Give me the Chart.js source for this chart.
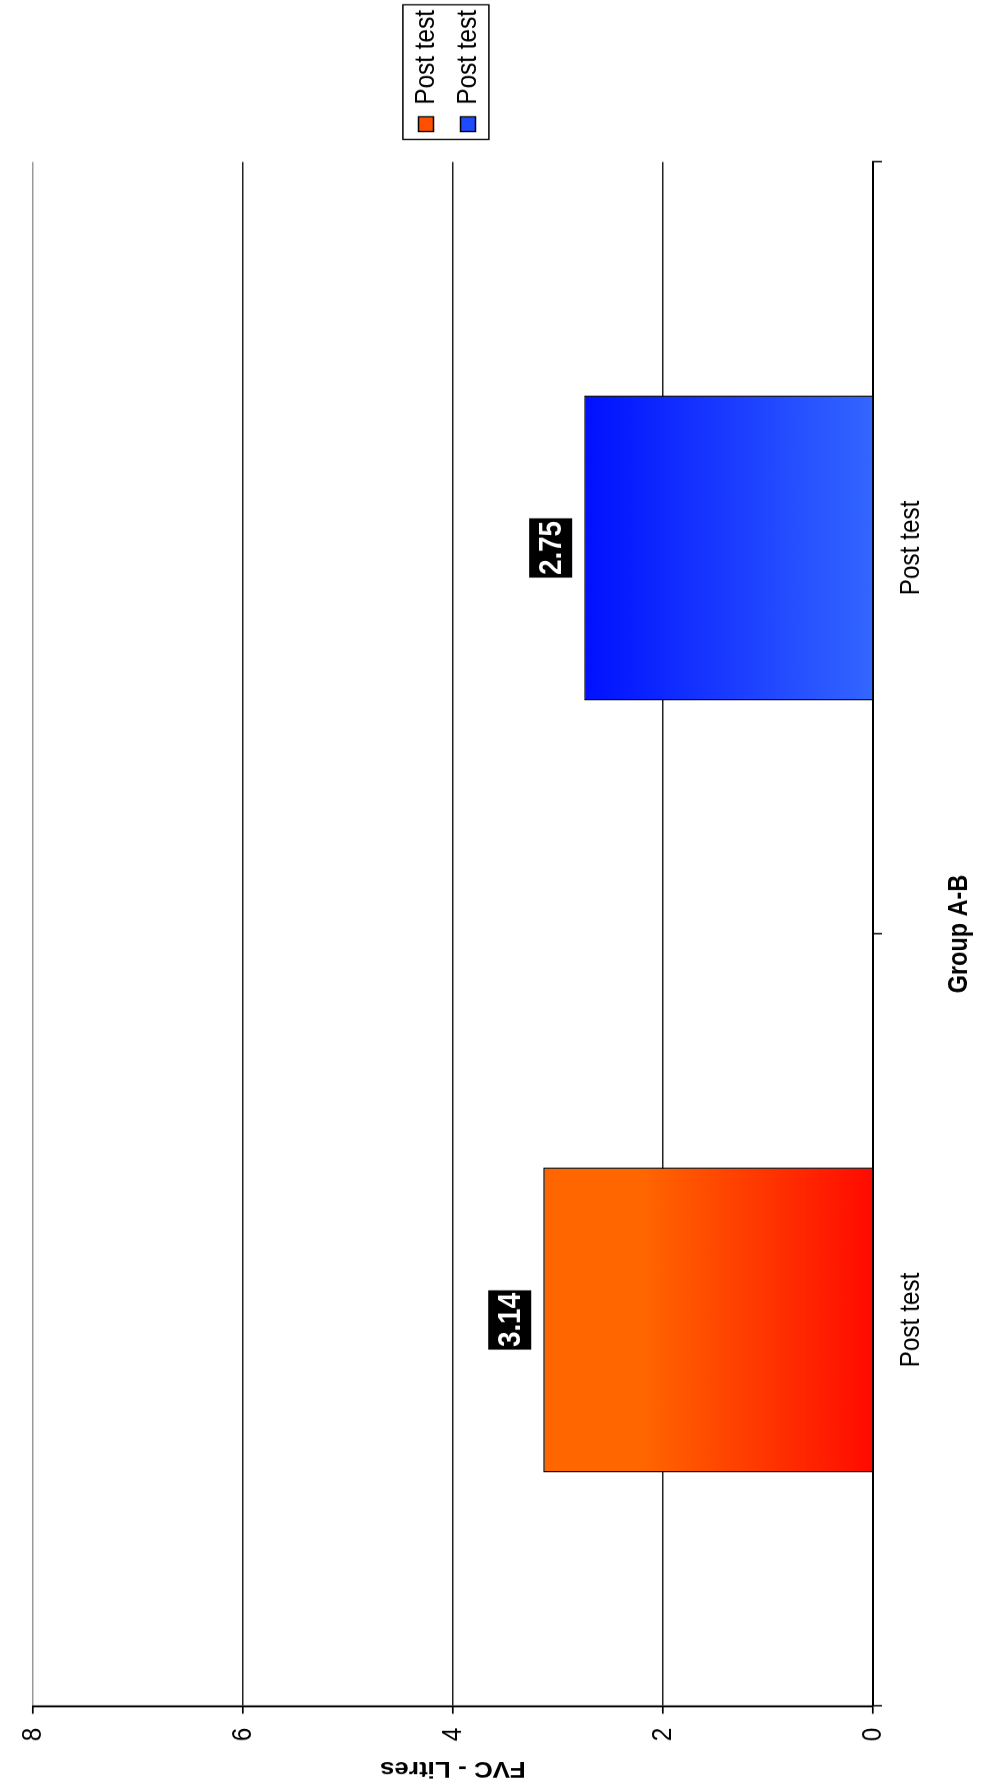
<!DOCTYPE html>
<html>
<head>
<meta charset="utf-8">
<title>FVC - Litres</title>
<script src="https://cdn.jsdelivr.net/npm/chart.js@4/dist/chart.umd.min.js"></script>
<style>
  html, body { margin: 0; padding: 0; background: #fff; overflow: hidden; }
  #wrap { position: relative; width: 986px; height: 1789px; }
  /* the chart is drawn upright, then turned a quarter left like the source image */
  #chart { position: absolute; left: 0; top: 0; transform-origin: 0 0; transform: translateY(1789px) rotate(-90deg); }
</style>
</head>
<body>
<div id="wrap"><canvas id="chart" width="2060" height="986" style="width:1789px;height:986px"></canvas></div>
<script>
// data
var categories = ['Post test', 'Post test'];
var seriesNames = ['Post test', 'Post test'];
var orangeValues = [3.14, null];
var blueValues = [null, 2.75];
var valueTicks = [0, 2, 4, 6, 8];

var FONT = '"Liberation Sans", Arial, sans-serif';
Chart.defaults.font.family = FONT;
Chart.defaults.color = '#000';

function barFill(c, tip, base, hold) {
  var area = c.chart.chartArea;
  if (!area || c.type !== 'data' || c.raw === null || c.raw === undefined) return base;
  var y = c.chart.scales.y;
  var g = c.chart.ctx.createLinearGradient(0, y.getPixelForValue(c.raw), 0, y.getPixelForValue(0));
  g.addColorStop(0, tip);
  if (hold) g.addColorStop(hold, tip);
  g.addColorStop(1, base);
  return g;
}

var swatches = ['#FF5000', '#1E4BFF'];

// white-on-black value boxes above the bars
var valueLabels = {
  id: 'valueLabels',
  afterDatasetsDraw: function (chart) {
    var ctx = chart.ctx;
    ctx.save();
    ctx.font = 'bold 32px ' + FONT;
    ctx.textAlign = 'center';
    ctx.textBaseline = 'middle';
    chart.data.datasets.forEach(function (ds, i) {
      chart.getDatasetMeta(i).data.forEach(function (bar, j) {
        var v = ds.data[j];
        if (v === null || v === undefined) return;
        var txt = v.toFixed(2);
        var w = ctx.measureText(txt).width + 6;
        var h = 43;
        var bottom = bar.y - 12;
        ctx.fillStyle = '#000';
        ctx.fillRect(bar.x - w / 2, bottom - h, w, h);
        ctx.fillStyle = '#fff';
        ctx.fillText(txt, bar.x, bottom - h / 2 + 1);
      });
    });
    ctx.restore();
  }
};

// move legend a little and frame it
var legendBox = {
  id: 'legendBox',
  afterLayout: function (chart) {
    chart.legend.left += 21;
    chart.legend.right += 21;
    chart.legend.top -= 6;
    chart.legend.bottom -= 6;
  },
  afterDraw: function (chart) {
    var hb = chart.legend.legendHitBoxes;
    if (!hb || !hb.length) return;
    var l = Infinity, t = Infinity, r = -Infinity, b = -Infinity;
    hb.forEach(function (h) {
      l = Math.min(l, h.left); t = Math.min(t, h.top);
      r = Math.max(r, h.left + h.width); b = Math.max(b, h.top + h.height);
    });
    var ctx = chart.ctx;
    ctx.save();
    ctx.strokeStyle = '#000';
    ctx.lineWidth = 1.5;
    ctx.strokeRect(l - 9, t - 9, r - l + 15, b - t + 16);
    ctx.restore();
  }
};

new Chart(document.getElementById('chart').getContext('2d'), {
  type: 'bar',
  data: {
    labels: categories,
    datasets: [
      { label: seriesNames[0], data: orangeValues,
        backgroundColor: function (c) { return barFill(c, '#FF6600', '#FF0A00', 0.3); },
        borderColor: '#000', borderWidth: 1.5 },
      { label: seriesNames[1], data: blueValues,
        backgroundColor: function (c) { return barFill(c, '#0010FF', '#3366FF', 0); },
        borderColor: '#000', borderWidth: 1.5 }
    ]
  },
  options: {
    responsive: false,
    animation: false,
    grouped: false,
    categoryPercentage: 0.395,
    barPercentage: 1,
    layout: { padding: { left: 0, top: 25, right: 26.5, bottom: 0 } },
    plugins: {
      legend: {
        position: 'right', fullSize: false, maxWidth: 160,
        labels: {
          font: { size: 28 }, color: '#000', padding: 14, boxWidth: 17, boxHeight: 15,
          generateLabels: function (chart) {
            return Chart.defaults.plugins.legend.labels.generateLabels(chart).map(function (it) {
              it.fillStyle = swatches[it.datasetIndex];
              it.strokeStyle = '#000';
              it.lineWidth = 1.5;
              return it;
            });
          }
        }
      },
      tooltip: { enabled: false }
    },
    scales: {
      x: {
        afterFit: function (s) { s.height = 113; },
        grid: {
          offset: true, drawOnChartArea: true, tickLength: 9, tickColor: '#000', tickWidth: 1.7,
          color: function (c) { return c.index === categories.length ? '#999' : 'rgba(0,0,0,0)'; },
          lineWidth: 1.7
        },
        border: { color: '#000', width: 2 },
        ticks: { font: { size: 28 }, color: '#000', padding: 12, maxRotation: 0, autoSkip: false },
        title: { display: true, text: 'Group A-B', font: { size: 27, weight: 'bold' }, color: '#000', padding: { top: 0, bottom: 10 } }
      },
      y: {
        min: valueTicks[0], max: valueTicks[valueTicks.length - 1],
        afterFit: function (s) { s.width = 95.6; },
        afterBuildTicks: function (s) { s.ticks = valueTicks.map(function (v) { return { value: v }; }); },
        grid: {
          tickLength: 9, tickColor: '#000', tickWidth: 1.7,
          color: function (c) { return c.tick && c.tick.value === valueTicks[valueTicks.length - 1] ? '#999' : '#222'; },
          lineWidth: 1.6
        },
        border: { color: '#000', width: 2.3 },
        ticks: { font: { size: 28 }, color: '#000', padding: 16 },
        title: { display: true, text: 'FVC - Litres', font: { size: 26, weight: 'bold' }, color: '#000', padding: { top: 8, bottom: 0 } }
      }
    }
  },
  plugins: [valueLabels, legendBox]
});
</script>
</body>
</html>
